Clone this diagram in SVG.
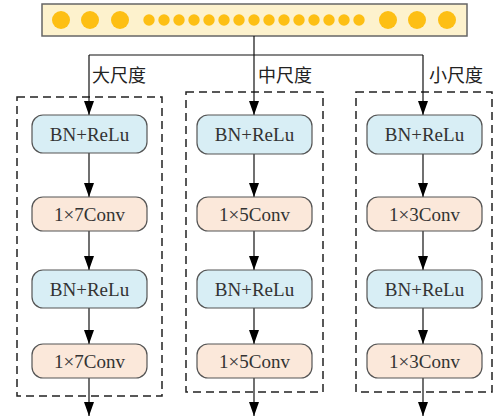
<svg xmlns="http://www.w3.org/2000/svg" width="503" height="418" viewBox="0 0 503 418">
<style>
.bn{fill:#d8eef5;stroke:#555;stroke-width:1.2}
.cv{fill:#fbe8da;stroke:#555;stroke-width:1.2}
.cn{font-family:'Noto Sans CJK SC',sans-serif;font-size:18px;fill:#222}
.dash{fill:none;stroke:#222;stroke-width:1.5;stroke-dasharray:8,5}
.ln{fill:none;stroke:#111;stroke-width:1.2}
.big{fill:#fdbf14}
</style>
<defs>
<marker id="ah" markerWidth="14" markerHeight="10" refX="14" refY="5" orient="auto" markerUnits="userSpaceOnUse" viewBox="0 0 14 10">
<path d="M0,0 L14,5 L0,10 Z" fill="#000"/>
</marker>
</defs>
<g id="input">
<rect x="42" y="4" width="425" height="32" fill="#fdf2cd" stroke="#666" stroke-width="1.5"/>
<circle class="big" cx="61" cy="20" r="9"/>
<circle class="big" cx="90" cy="20" r="9"/>
<circle class="big" cx="120" cy="20" r="9"/>
<circle class="big" cx="388" cy="20" r="9"/>
<circle class="big" cx="417" cy="20" r="9"/>
<circle class="big" cx="447" cy="20" r="9"/>
<g class="big">
<circle cx="149" cy="20" r="5.7"/><circle cx="164" cy="20" r="5.7"/><circle cx="179" cy="20" r="5.7"/><circle cx="194" cy="20" r="5.7"/><circle cx="209" cy="20" r="5.7"/><circle cx="224" cy="20" r="5.7"/><circle cx="239" cy="20" r="5.7"/><circle cx="254" cy="20" r="5.7"/><circle cx="269" cy="20" r="5.7"/><circle cx="284" cy="20" r="5.7"/><circle cx="299" cy="20" r="5.7"/><circle cx="314" cy="20" r="5.7"/><circle cx="329" cy="20" r="5.7"/><circle cx="344" cy="20" r="5.7"/><circle cx="359" cy="20" r="5.7"/>
</g>
</g>
<g id="group-large"><rect class="dash" x="17" y="97" width="145" height="299"/></g>
<g id="group-mid"><rect class="dash" x="186" y="92" width="137" height="300"/></g>
<g id="group-small"><rect class="dash" x="356" y="92" width="136" height="300"/></g>
<g id="connectors">
<path class="ln" d="M254,36 V55 M89,55 H423"/>
<path class="ln" d="M89,55 V115" marker-end="url(#ah)"/>
<path class="ln" d="M254,55 V115" marker-end="url(#ah)"/>
<path class="ln" d="M423,55 V115" marker-end="url(#ah)"/>
<path class="ln" d="M89,153 V197" marker-end="url(#ah)"/>
<path class="ln" d="M89,231 V270" marker-end="url(#ah)"/>
<path class="ln" d="M89,308 V344" marker-end="url(#ah)"/>
<path class="ln" d="M89,378 V416" marker-end="url(#ah)"/>
<path class="ln" d="M254,154 V197" marker-end="url(#ah)"/>
<path class="ln" d="M254,231 V270" marker-end="url(#ah)"/>
<path class="ln" d="M254,308 V344" marker-end="url(#ah)"/>
<path class="ln" d="M254,378 V416" marker-end="url(#ah)"/>
<path class="ln" d="M423,154 V197" marker-end="url(#ah)"/>
<path class="ln" d="M423,231 V270" marker-end="url(#ah)"/>
<path class="ln" d="M423,308 V344" marker-end="url(#ah)"/>
<path class="ln" d="M423,378 V416" marker-end="url(#ah)"/>
<text class="cn" x="92" y="82">大尺度</text>
<text class="cn" x="258" y="82">中尺度</text>
<text class="cn" x="429" y="82">小尺度</text>
</g>
<g font-family="Liberation Serif, Times New Roman, serif" font-size="19" fill="#333" text-anchor="middle">
<g id="L1"><rect class="bn" x="32" y="115" width="115" height="38" rx="11"/><text x="89.5" y="140.5">BN+ReLu</text></g>
<g id="L2"><rect class="cv" x="32" y="197" width="115" height="34" rx="11"/><text x="89.5" y="220.5">1×7Conv</text></g>
<g id="L3"><rect class="bn" x="32" y="270" width="115" height="38" rx="11"/><text x="89.5" y="295.5">BN+ReLu</text></g>
<g id="L4"><rect class="cv" x="32" y="344" width="115" height="34" rx="11"/><text x="89.5" y="367.5">1×7Conv</text></g>
<g id="M1"><rect class="bn" x="197" y="115" width="115" height="39" rx="11"/><text x="254.5" y="140.5">BN+ReLu</text></g>
<g id="M2"><rect class="cv" x="197" y="197" width="115" height="34" rx="11"/><text x="254.5" y="220.5">1×5Conv</text></g>
<g id="M3"><rect class="bn" x="197" y="270" width="115" height="38" rx="11"/><text x="254.5" y="295.5">BN+ReLu</text></g>
<g id="M4"><rect class="cv" x="197" y="344" width="115" height="34" rx="11"/><text x="254.5" y="367.5">1×5Conv</text></g>
<g id="S1"><rect class="bn" x="367" y="115" width="115" height="39" rx="11"/><text x="424.5" y="140.5">BN+ReLu</text></g>
<g id="S2"><rect class="cv" x="367" y="197" width="115" height="34" rx="11"/><text x="424.5" y="220.5">1×3Conv</text></g>
<g id="S3"><rect class="bn" x="367" y="270" width="115" height="38" rx="11"/><text x="424.5" y="295.5">BN+ReLu</text></g>
<g id="S4"><rect class="cv" x="367" y="344" width="115" height="34" rx="11"/><text x="424.5" y="367.5">1×3Conv</text></g>
</g>
</svg>
